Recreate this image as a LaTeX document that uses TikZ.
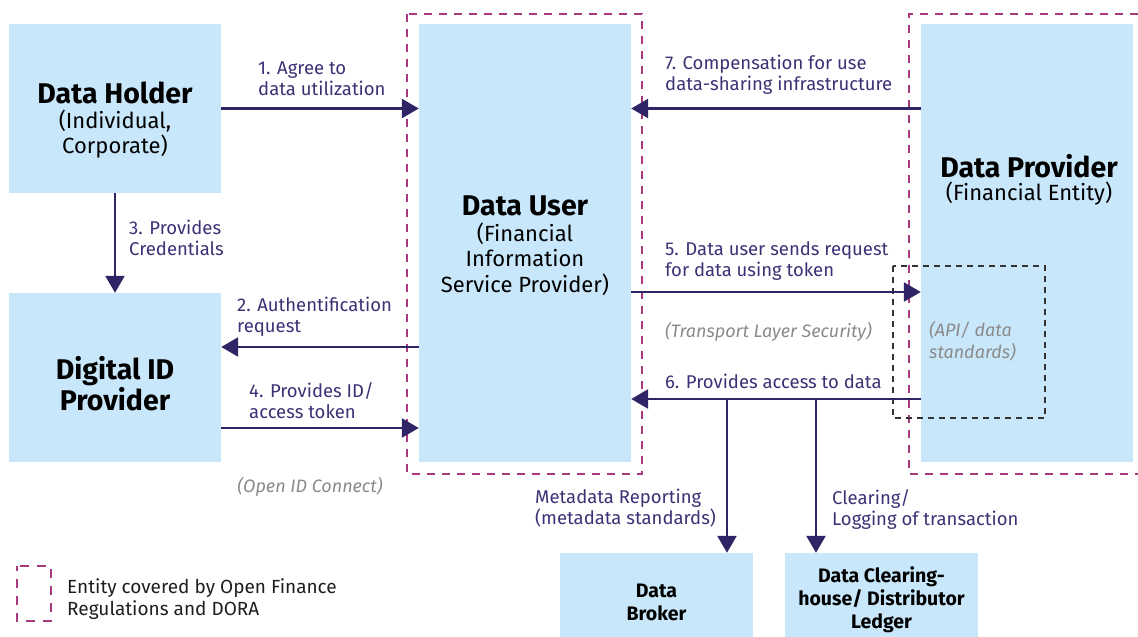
\documentclass[tikz,border=0pt]{standalone}
\usepackage{fontspec}
\setmainfont{Fira Sans}
\usetikzlibrary{arrows.meta}
\definecolor{boxfill}{HTML}{C9E7FA}
\definecolor{arr}{HTML}{2D2566}
\definecolor{lbl}{HTML}{3A3275}
\definecolor{mag}{HTML}{A8397F}
\definecolor{greytxt}{HTML}{8A8A8A}
\definecolor{legtext}{HTML}{1E1E1E}
\tikzset{
  ent/.style={fill=boxfill, draw=none, inner sep=0pt},
  flow/.style={draw=arr, line width=2.6pt, -{Triangle[length=17pt,width=19pt]}},
  lab/.style={text=lbl, align=left, anchor=north west, inner sep=0pt, font=\fontsize{18.5}{21}\selectfont},
  note/.style={text=greytxt, align=left, anchor=north west, inner sep=0pt, font=\fontsize{18}{22}\selectfont\itshape},
  title/.style={align=center, inner sep=0pt, font=\fontsize{28.5}{29}\selectfont\bfseries},
  sub/.style={align=center, inner sep=0pt, font=\fontsize{22}{25.5}\selectfont},
  smalltitle/.style={align=center, inner sep=0pt, font=\fontsize{19.5}{23}\selectfont\bfseries},
  regdash/.style={draw=mag, line width=2.6pt, dash pattern=on 8pt off 7pt},
  apidash/.style={draw=black!80, line width=1.4pt, dash pattern=on 6pt off 5pt},
}
\begin{document}
\begin{tikzpicture}[x=1pt,y=-1pt]
\useasboundingbox (0,0) rectangle (1138,637);
% entity boxes
\node[ent, minimum width=212pt, minimum height=169pt] (holder) at (115,108.5) {};
\node[ent, minimum width=212pt, minimum height=169pt] (idp) at (115,377.5) {};
\node[ent, minimum width=212pt, minimum height=438pt] (user) at (525,243) {};
\node[ent, minimum width=212pt, minimum height=438pt] (prov) at (1027,243) {};
\node[ent, minimum width=193pt, minimum height=84pt] (broker) at (656.5,595) {};
\node[ent, minimum width=193pt, minimum height=84pt] (clear) at (881.5,595) {};
% regulated entity frames
\draw[regdash] (407,14) rectangle (642,474);
\draw[regdash] (1138,14) -- (909,14) -- (909,474) -- (1138,474);
% API frame
\draw[apidash] (893,266) rectangle (1045,418);
% titles
\node[title] (tholder) at (115,93) {Data Holder};
\node[sub] (sholder) at (115,134) {(Individual,\\Corporate)};
\node[title] (tidp) at (115,383.5) {Digital ID\\Provider};
\node[title] (tuser) at (525,206) {Data User};
\node[sub] (suser) at (525,259) {(Financial\\Information\\Service Provider)};
\node[title] (tprov) at (1029,166) {Data Provider};
\node[sub] (sprov) at (1029,194) {(Financial Entity)};
\node[smalltitle] (tbroker) at (656.5,602) {Data\\Broker};
\node[smalltitle] (tclear) at (881.5,600) {Data Clearing-\\house/ Distributor\\Ledger};
% coordinates
\coordinate (b1) at (727,399);
\coordinate (b2) at (816,399);
% connectors
\draw[flow] (holder.east) -- (user.west |- holder.east);
\draw[flow] (prov.west |- holder.east) -- (user.east |- holder.east);
\draw[flow] (holder.south) -- (idp.north);
\draw[flow] (user.west |- 0,347) -- (idp.east |- 0,347);
\draw[flow] (idp.east |- 0,428) -- (user.west |- 0,428);
\draw[flow] (user.east |- 0,292) -- (prov.west |- 0,292);
\draw[flow] (prov.west |- 0,399) -- (user.east |- 0,399);
\draw[flow] (b1) -- (b1 |- broker.north);
\draw[flow] (b2) -- (b2 |- clear.north);
% labels
\node[lab] (l1) at (258,61.5) {1. Agree to\\data utilization};
\node[lab] (l3) at (129,220) {3. Provides\\Credentials};
\node[lab] (l7) at (665,55) {7. Compensation for use\\data-sharing infrastructure};
\node[lab] (l5) at (665,241.5) {5. Data user sends request\\for data using token};
\node[lab] (l6) at (665,374) {6. Provides access to data};
\node[lab] (l2) at (237,297) {2. Authentification\\request};
\node[lab] (l4) at (249,382) {4. Provides ID/\\access token};
\node[lab] (lm) at (535,489) {Metadata Reporting\\(metadata standards)};
\node[lab] (lc) at (832,489) {Clearing/\\Logging of transaction};
\node[note] (ntls) at (665,322) {(Transport Layer Security)};
\node[note] (napi) at (929,321) {(API/ data\\standards)};
\node[note, anchor=north] (noid) at (310,477) {(Open ID Connect)};
% legend
\draw[draw=mag, line width=2.6pt, dash pattern=on 9pt off 8pt, dash phase=4pt] (17,566) rectangle (51,621);
\node[anchor=north west, inner sep=0pt, align=left, text=legtext, font=\fontsize{19}{22}\selectfont] (legtxt) at (67,578) {Entity covered by Open Finance\\Regulations and DORA};
\end{tikzpicture}
\end{document}
